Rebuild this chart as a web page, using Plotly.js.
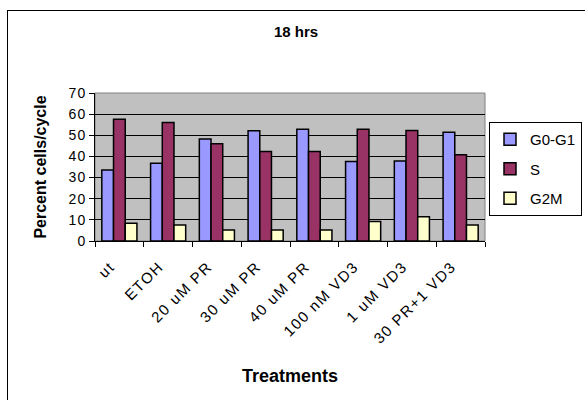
<!DOCTYPE html>
<html>
<head>
<meta charset="utf-8">
<script src="https://cdn.plot.ly/plotly-3.0.1.min.js"></script>
<style>
  body { margin: 0; padding: 0; background: #fff; }
  #wrap { position: relative; width: 585px; height: 400px; overflow: hidden; }
  #chart { width: 585px; height: 400px; }
  #frame { position: absolute; left: 7px; top: 10px; width: 620px; height: 420px;
           border: 1px solid #000; pointer-events: none; box-sizing: border-box; }
  .xtick text { letter-spacing: 1.5px; }
  .ytick text { letter-spacing: 1px; }
</style>
</head>
<body>
<div id="wrap">
  <div id="chart"></div>
  <div id="frame"></div>
</div>
<script>
const categories = ["ut", "ETOH", "20 uM PR", "30 uM PR", "40 uM PR", "100 nM VD3", "1 uM VD3", "30 PR+1 VD3"];
const g0g1 = [33.6, 36.8, 48.3, 52.1, 52.9, 37.6, 37.8, 51.4];
const sPhase = [57.6, 56.0, 46.0, 42.3, 42.3, 52.8, 52.3, 40.8];
const g2m = [8.4, 7.6, 5.2, 5.2, 5.2, 9.2, 11.5, 7.6];
const seriesNames = ["G0-G1", "S", "G2M"];
const seriesColors = ["#9999FF", "#993366", "#FFFFCC"];

const values = [g0g1, sPhase, g2m];
const traces = values.map((v, i) => ({
  type: "bar",
  name: seriesNames[i],
  x: categories,
  y: v,
  legendgroup: "g" + i,
  marker: { color: seriesColors[i], line: { color: "#000", width: 1.5 } },
  hoverinfo: "x+y+name"
}));

const font = { family: "Arial, 'Liberation Sans', sans-serif", color: "#000" };
const f = (s) => Object.assign({ size: s }, font);

const layout = {
  width: 585, height: 400,
  margin: { l: 95, r: 100, t: 93, b: 159, pad: 0, autoexpand: false },
  paper_bgcolor: "#fff",
  plot_bgcolor: "#C0C0C0",
  barmode: "group",
  bargap: 0.28,
  bargroupgap: 0,
  font: f(14),
  title: {
    text: "<b>18 hrs</b>",
    font: f(15),
    x: 296 / 585, xref: "container", xanchor: "center",
    y: 1 - 32 / 400, yref: "container", yanchor: "middle"
  },
  xaxis: {
    type: "category",
    tickangle: -45,
    ticks: "outside", ticklen: 5, tickcolor: "#000", tickwidth: 1,
    tickson: "boundaries",
    ticklabelstandoff: 10,
    ticklabelshift: -9,
    showline: true, linecolor: "#000", linewidth: 1,
    showgrid: false,
    tickfont: f(15),
    automargin: false
  },
  yaxis: {
    range: [0, 70], dtick: 10, tick0: 0,
    ticks: "outside", ticklen: 5, tickcolor: "#000", tickwidth: 1,
    showline: true, linecolor: "#000", linewidth: 1,
    showgrid: true, gridcolor: "#000", gridwidth: 1,
    zeroline: false,
    tickfont: f(14),
    title: { text: "<b>Percent cells/cycle</b>", font: f(16), standoff: 18 },
    automargin: false
  },
  annotations: [
    { text: "<b>Treatments</b>", xref: "paper", yref: "paper",
      x: 0.5, y: (241 - 376) / 148, xanchor: "center", yanchor: "middle",
      showarrow: false, font: f(18) }
  ],
  showlegend: true,
  legend: {
    x: (582 - 95) / 390, xanchor: "right", xref: "paper",
    y: (241 - 122) / 148, yanchor: "top", yref: "paper",
    bgcolor: "#fff", bordercolor: "#000", borderwidth: 1,
    font: f(15),
    tracegroupgap: 7,
    traceorder: "grouped"
  },
  shapes: [
    { type: "rect", xref: "paper", yref: "paper", x0: 0, x1: 1, y0: 0, y1: 1,
      line: { color: "#808080", width: 1 }, fillcolor: "rgba(0,0,0,0)", layer: "below" }
  ]
};

Plotly.newPlot("chart", traces, layout, { displayModeBar: false, staticPlot: true });
</script>
</body>
</html>
